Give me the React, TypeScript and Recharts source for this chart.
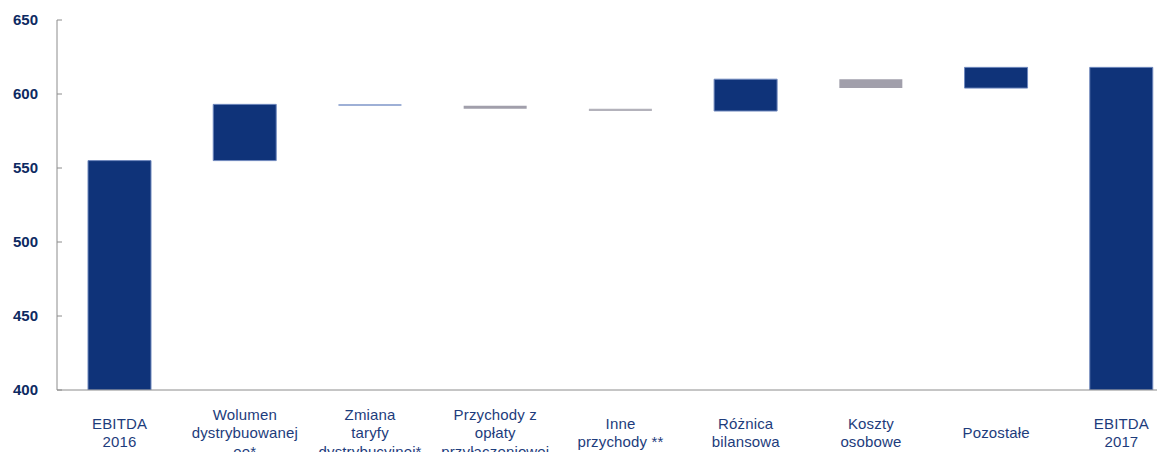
import { BarChart, Bar, XAxis, YAxis, Cell } from "recharts";

// category labels (line breaks as on the slide)
const CATEGORIES = [
  "EBITDA\n2016",
  "Wolumen\ndystrybuowanej\nee*",
  "Zmiana\ntaryfy\ndystrybucyjnej*",
  "Przychody z\nopłaty\nprzyłączeniowej",
  "Inne\nprzychody **",
  "Różnica\nbilansowa",
  "Koszty\nosobowe",
  "Pozostałe",
  "EBITDA\n2017",
];

const EBITDA_2016 = 555;
const EBITDA_2017 = 618;
// bridge steps between the two totals
const CHANGES = [38, -1, -2, -1.5, 21.5, -6, 14];

const Y_TICKS = [400, 450, 500, 550, 600, 650];

const NAVY = "#0f3379";
const GRAY = "#a19fab";
const BAR_FILLS = [NAVY, NAVY, "#7e96c8", GRAY, "#b3b2bb", NAVY, GRAY, NAVY, NAVY];

const AXIS_MIN = Y_TICKS[0];

const buildData = () => {
  const rows: { name: string; range: [number, number] }[] = [];
  rows.push({ name: CATEGORIES[0], range: [AXIS_MIN, EBITDA_2016] });
  let level = EBITDA_2016;
  CHANGES.forEach((c, i) => {
    const next = level + c;
    rows.push({ name: CATEGORIES[i + 1], range: [Math.min(level, next), Math.max(level, next)] });
    level = next;
  });
  rows.push({ name: CATEGORIES[CATEGORIES.length - 1], range: [AXIS_MIN, EBITDA_2017] });
  return rows;
};

const data = buildData();

const XTick = (props: any) => {
  const { x, y, payload } = props;
  const lines = String(payload.value).split("\n");
  const lh = 18.5;
  return (
    <text
      x={x}
      y={y}
      textAnchor="middle"
      fontFamily="Liberation Sans, Arial, sans-serif"
      fontSize={15}
      letterSpacing={0.15}
      fill="#1d3c7c"
    >
      {lines.map((l, i) => (
        <tspan key={i} x={x} y={y + 42 + (i - (lines.length - 1) / 2) * lh}>
          {l}
        </tspan>
      ))}
    </text>
  );
};

const YTick = (props: any) => {
  const { x, y, payload } = props;
  return (
    <g>
      <line x1={x} x2={x + 5} y1={y} y2={y} stroke="#8c8c8c" />
      <text
        x={x - 19}
        y={y}
        dy={5}
        textAnchor="end"
        fontFamily="Liberation Sans, Arial, sans-serif"
        fontWeight="bold"
        fontSize={15}
        fill="#0d2a62"
      >
        {payload.value}
      </text>
    </g>
  );
};

export default function App() {
  return (
    <div style={{ margin: -8, width: 1165, height: 460, overflow: "hidden", background: "#fff" }}>
      <BarChart
        width={1190}
        height={460}
        data={data}
        margin={{ top: 20, right: 6, bottom: 0, left: 0 }}
      >
        <XAxis
          dataKey="name"
          interval={0}
          height={70}
          tickLine={false}
          axisLine={{ stroke: "#8c8c8c" }}
          tick={<XTick />}
          tickMargin={0}
        />
        <YAxis
          width={57}
          domain={[AXIS_MIN, 650]}
          ticks={Y_TICKS}
          allowDataOverflow
          tickLine={false}
          tickSize={0}
          tickMargin={0}
          axisLine={{ stroke: "#8c8c8c" }}
          tick={<YTick />}
        />
        <Bar dataKey="range" barSize={63} isAnimationActive={false}>
          {data.map((_d, i) => (
            <Cell
              key={`c-${i}`}
              fill={BAR_FILLS[i]}
              stroke={BAR_FILLS[i] === NAVY ? "#6f88bd" : "none"}
              strokeWidth={1}
            />
          ))}
        </Bar>
      </BarChart>
    </div>
  );
}
